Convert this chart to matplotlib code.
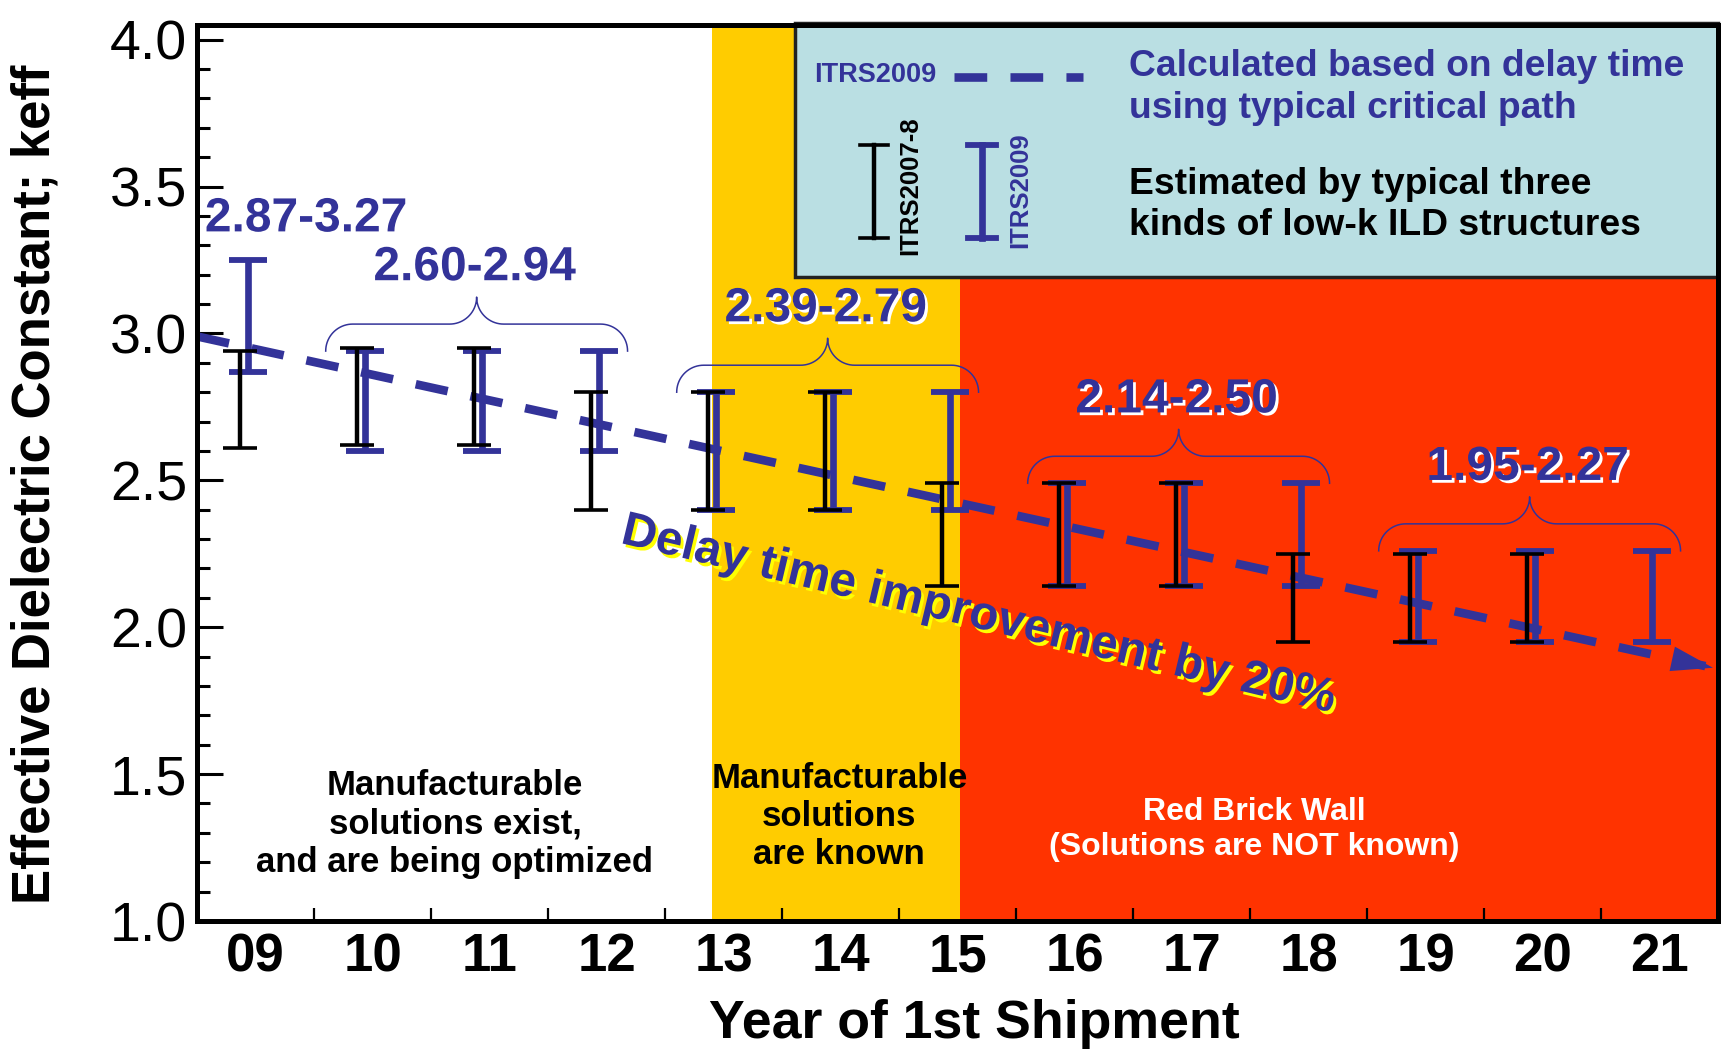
import numpy as np
import matplotlib
matplotlib.use('Agg')
import matplotlib.pyplot as plt
import matplotlib.patheffects as pe
from matplotlib.lines import Line2D
from matplotlib.patches import Rectangle

plt.rcParams['font.family'] = ['Liberation Sans', 'DejaVu Sans']

# ── Données ──────────────────────────────────────────────
years = ['09', '10', '11', '12', '13', '14', '15', '16', '17', '18', '19', '20', '21']

# ITRS2009 (bleu) : bornes basse / haute de keff
itrs2009_lo = [2.87, 2.60, 2.60, 2.60, 2.40, 2.40, 2.40, 2.14, 2.14, 2.14, 1.95, 1.95, 1.95]
itrs2009_hi = [3.25, 2.94, 2.94, 2.94, 2.80, 2.80, 2.80, 2.49, 2.49, 2.49, 2.26, 2.26, 2.26]

# ITRS2007-8 (noir) : pas de valeur pour 21
itrs2007_lo = [2.61, 2.62, 2.62, 2.40, 2.40, 2.40, 2.14, 2.14, 2.14, 1.95, 1.95, 1.95]
itrs2007_hi = [2.94, 2.95, 2.95, 2.80, 2.80, 2.80, 2.49, 2.49, 2.49, 2.25, 2.25, 2.25]

# tendance calculée (délai) : début / fin de la flèche
trend_x = [-0.5, 12.48]
trend_k = [2.99, 1.86]

# groupes d'années annotés (index début, index fin, texte)
range_groups = [(0, 0, '2.87-3.27'), (1, 3, '2.60-2.94'), (4, 6, '2.39-2.79'),
                (7, 9, '2.14-2.50'), (10, 12, '1.95-2.27')]

# zones de fond
zone_edges = [-0.5, 3.9, 6.02, 12.5]
zone_colors = ['white', '#FFCC00', '#FF3300']
zone_text = ['Manufacturable\nsolutions exist,\nand are being optimized',
             'Manufacturable\nsolutions\nare known',
             'Red Brick Wall\n(Solutions are NOT known)']
zone_text_color = ['black', 'black', 'white']

BLUE = '#333399'

# ── Figure ────────────────────────────────────────────────
fig = plt.figure(figsize=(17.26, 10.5), dpi=100)
ax = fig.add_axes([197 / 1726, 1 - 921 / 1050, 1521 / 1726, 896 / 1050])
ax.set_xlim(-0.5, 12.5)
ax.set_ylim(1.0, 4.05)

for i, c in enumerate(zone_colors):
    ax.axvspan(zone_edges[i], zone_edges[i + 1], color=c, lw=0, zorder=0)

# ligne de tendance en tirets + pointe de flèche
ax.plot(trend_x, trend_k, color=BLUE, lw=6.2, dashes=(3.8, 2.7), zorder=2,
        solid_capstyle='butt', dash_capstyle='butt')
slope = (trend_k[1] - trend_k[0]) / (trend_x[1] - trend_x[0])
ax.annotate('', xy=(trend_x[1], trend_k[1]),
            xytext=(trend_x[1] - 0.35, trend_k[1] - 0.35 * slope),
            arrowprops=dict(arrowstyle='-|>,head_length=1.5,head_width=0.45',
                            color=BLUE, lw=0, mutation_scale=20), zorder=2)

# barres d'erreur
x09 = np.arange(len(itrs2009_lo)) - 0.06
lo, hi = np.array(itrs2009_lo), np.array(itrs2009_hi)
ax.errorbar(x09, (lo + hi) / 2, yerr=(hi - lo) / 2, fmt='none', ecolor=BLUE,
            elinewidth=4.8, capsize=14, capthick=4.2, zorder=3)

x07 = np.arange(len(itrs2007_lo)) - 0.13
lo7, hi7 = np.array(itrs2007_lo), np.array(itrs2007_hi)
ax.errorbar(x07, (lo7 + hi7) / 2, yerr=(hi7 - lo7) / 2, fmt='none', ecolor='black',
            elinewidth=3.2, capsize=12, capthick=2.6, zorder=4)

# accolades + étiquettes de plage
p0 = ax.transData.transform((0, 0))
p1 = ax.transData.transform((1, 1))
sx, sy = p1[0] - p0[0], p1[1] - p0[1]
r_px, half_w = 27, 1.29
rx, ry = r_px / sx, r_px / sy


def brace(xc, y0):
    t = np.linspace(0, np.pi / 2, 20)
    a1 = np.c_[xc - half_w + rx - rx * np.cos(t), y0 + ry * np.sin(t)]
    a2 = np.c_[xc - rx + rx * np.sin(t), y0 + 2 * ry - ry * np.cos(t)]
    a3 = np.c_[xc + rx - rx * np.cos(t), y0 + 2 * ry - ry * np.sin(t)]
    a4 = np.c_[xc + half_w - rx + rx * np.sin(t), y0 + ry * np.cos(t)]
    pts = np.vstack([a1, a2, a3, a4])
    ax.plot(pts[:, 0], pts[:, 1], color=BLUE, lw=1.1, zorder=3)


shadow = [pe.SimplePatchShadow(offset=(2, -2), shadow_rgbFace='white', alpha=1.0), pe.Normal()]
for i0, i1, txt in range_groups:
    xs = x09[i0:i1 + 1]
    top = max(itrs2009_hi[i0:i1 + 1])
    if i0 == i1:
        tx, ty = xs[0] + 0.49, top + 0.14
    else:
        xc = xs.mean() - 0.05
        brace(xc, top)
        tx, ty = xc - 0.02, top + 2 * ry + 0.1
    ax.text(tx, ty, txt, color=BLUE, fontsize=34.5, fontweight='bold',
            ha='center', va='center', zorder=6, path_effects=shadow)

# texte incliné
ax.text(6.18, 2.04, 'Delay time improvement by 20%', color=BLUE, fontsize=34.5,
        fontweight='bold', rotation=-13.4, rotation_mode='anchor',
        ha='center', va='center', zorder=6,
        path_effects=[pe.SimplePatchShadow(offset=(2, -2.5), shadow_rgbFace='#FFFF00',
                                           alpha=1.0), pe.Normal()])

# textes des zones
zone_pos = [(1.705, 1.33), (4.99, 1.355), (8.54, 1.312)]
zone_size = [25, 25, 23]
for (zx, zy), txt, c, fs in zip(zone_pos, zone_text, zone_text_color, zone_size):
    ax.text(zx, zy, txt, color=c, fontsize=fs, fontweight='bold', ha='center',
            va='center', linespacing=1.2, zorder=6)

# ── Légende (coordonnées axes) ───────────────────────────
T = ax.transAxes
ax.add_patch(Rectangle((0.393, 0.719), 0.607, 0.283, transform=T, facecolor='#BADFE3',
                       edgecolor='#222222', lw=2.5, zorder=7, clip_on=False))
ax.text(0.4057, 0.944, 'ITRS2009', transform=T, color=BLUE, fontsize=19.5,
        fontweight='bold', ha='left', va='center', zorder=8)
ax.add_line(Line2D([0.4977, 0.5825], [0.942, 0.942], transform=T, color=BLUE, lw=6.2,
                   dashes=(3.8, 2.7), dash_capstyle='butt', zorder=8))
ax.text(0.6128, 0.930, 'Calculated based on delay time\nusing typical critical path',
        transform=T, color=BLUE, fontsize=26.8, fontweight='bold', ha='left', va='center',
        linespacing=1.24, zorder=8)
ax.text(0.6128, 0.7995, 'Estimated by typical three\nkinds of low-k ILD structures',
        transform=T, color='black', fontsize=26.8, fontweight='bold', ha='left', va='center',
        linespacing=1.22, zorder=8)
for lx, col, lw, cw in [(0.4451, 'black', 3.2, 2.6), (0.5161, BLUE, 4.8, 4.2)]:
    ax.add_line(Line2D([lx, lx], [0.7623, 0.866], transform=T, color=col, lw=lw, zorder=8))
    for cy in (0.7623, 0.866):
        ax.add_line(Line2D([lx - 0.009, lx + 0.009], [cy, cy], transform=T, color=col,
                           lw=cw, zorder=8))
ax.text(0.4688, 0.8203, 'ITRS2007-8', transform=T, color='black', fontsize=18.5,
        fontweight='bold', rotation=90, ha='center', va='center', zorder=8)
ax.text(0.5411, 0.8158, 'ITRS2009', transform=T, color=BLUE, fontsize=18.5,
        fontweight='bold', rotation=90, ha='center', va='center', zorder=8)

# ── Axes ──────────────────────────────────────────────────
for s in ax.spines.values():
    s.set_linewidth(3.6)
    s.set_zorder(9)

ax.set_yticks(np.arange(1.0, 4.01, 0.5))
ax.set_yticks(np.arange(1.0, 4.01, 0.1), minor=True)
ax.set_yticklabels([f'{v:.1f}' for v in np.arange(1.0, 4.01, 0.5)])
ax.tick_params(axis='y', which='major', direction='in', length=19, width=2.2,
               labelsize=40, pad=7)
ax.tick_params(axis='y', which='minor', direction='in', length=9.5, width=2.2)

ax.set_xticks(np.arange(len(years)))
ax.set_xticklabels(years, fontweight='bold')
ax.set_xticks(np.arange(0.5, len(years) - 1, 1.0), minor=True)
ax.tick_params(axis='x', which='major', length=0, labelsize=38, pad=8)
ax.tick_params(axis='x', which='minor', direction='in', length=9.5, width=1.6)

fig.text(974 / 1726, 1 - 1024 / 1050, 'Year of 1st Shipment', fontsize=38.6,
         fontweight='bold', ha='center', va='center')
fig.text(36 / 1726, 1 - 484 / 1050, 'Effective Dielectric Constant; keff', fontsize=38,
         fontweight='bold', rotation=90, ha='center', va='center')

fig.savefig('out.png', dpi=100)
plt.close(fig)
